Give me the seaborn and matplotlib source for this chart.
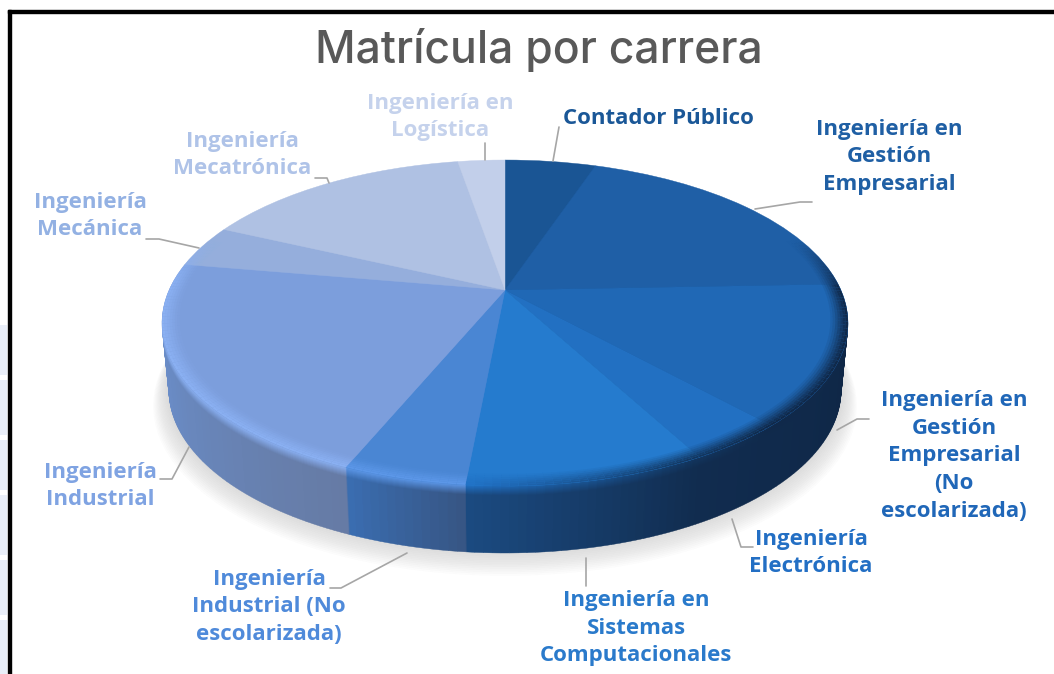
import numpy as np
import matplotlib
matplotlib.use('Agg')
import matplotlib.pyplot as plt
import matplotlib.transforms as mtransforms
from matplotlib.colors import to_rgb
from matplotlib.patches import Rectangle
import seaborn as sns

# ------------------------------------------------------------
#  DATA (share of enrolment)
# ------------------------------------------------------------
carreras = ['Contador Público',
            'Ingeniería en\nGestión\nEmpresarial',
            'Ingeniería en\nGestión\nEmpresarial\n(No\nescolarizada)',
            'Ingeniería\nElectrónica',
            'Ingeniería en\nSistemas\nComputacionales',
            'Ingeniería\nIndustrial (No\nescolarizada)',
            'Ingeniería\nIndustrial',
            'Ingeniería\nMecánica',
            'Ingeniería\nMecatrónica',
            'Ingeniería en\nLogística']
matricula = [5.2, 19.2, 13.8, 3.9, 9.4, 4.8, 21.4, 4.2, 15.4, 2.7]

# colours
top_colors = ['#1A5594', '#1F5FA6', '#2068B5', '#2270C2', '#257BCE',
              '#4A86D3', '#7C9EDC', '#95AEDC', '#AFC1E3', '#C2CFEA']
label_colors = ['#1A5797', '#1F5FA4', '#2067B8', '#236FC4', '#2A7ACB',
                '#4F8ADA', '#7FA3E2', '#93B1E3', '#AFC3E8', '#C5D2EC']
side_from = ['#10294A', '#10294A', '#0E2543', '#102A4C', '#112D50',
             '#375685', '#667BA5', '#6C96DA', '#6C96DA', '#10294A']
side_to = ['#10294A', '#0E2543', '#102A4C', '#112C4F', '#1B4A80',
           '#3A6DB0', '#6C96DA', '#6C96DA', '#6C96DA', '#10294A']
rim_from = ['#1A5594', '#12345E', '#10294A', '#10294A', '#12365F',
            '#5C97E8', '#8AB0F2', '#8AB0F2', '#AFC1E3', '#C2CFEA']
rim_to = ['#1A5594', '#12345E', '#10294A', '#12365F', '#2172C6',
          '#5C97E8', '#8AB0F2', '#8AB0F2', '#AFC1E3', '#C2CFEA']

# layout, in picture pixels
label_xy = [(658, 119), (889, 157), (954, 456), (811, 553), (636, 628),
            (269, 607), (100, 486), (90, 216), (242, 155), (440, 117)]
leaders = [[(559, 127), (553, 161)],
           [(812, 202), (800, 202), (755, 209)],
           [(869, 419), (857, 419), (837, 430)],
           [(753, 547), (741, 547), (732, 519)],
           [(586, 558), (586, 586)],
           [(330, 588), (341, 588), (407, 553)],
           [(160, 479), (172, 479), (189, 447)],
           [(146, 239), (159, 239), (199, 248)],
           [(315, 178), (327, 178), (329, 183)],
           [(485, 143), (485, 160)]]

CX, CY = 505, 290     # where the slices meet
PERSP = 0.2025        # perspective strength
SCALE_X, SCALE_Y = 335.9, 156.3
DEPTH = 67
BLUR = 10             # pixels of wall that melt into the rim colour


class Tilt(mtransforms.Transform):
    """Lays the flat pie down in perspective, result in picture pixels."""
    input_dims = 2
    output_dims = 2
    is_separable = False
    has_inverse = False

    def __init__(self, drop=0.0, shrink=1.0):
        super().__init__()
        self.drop = drop
        self.shrink = shrink

    def transform_non_affine(self, xy):
        xy = np.asarray(xy, dtype=float)
        w = 1 + PERSP * xy[:, 1]
        px = CX + self.shrink * SCALE_X * xy[:, 0] / w
        py = CY - SCALE_Y * xy[:, 1] / w + self.drop
        return np.column_stack([px, py])


sns.set_theme(style='white')
plt.rcParams['font.family'] = ['Open Sans', 'DejaVu Sans']

fig = plt.figure(figsize=(10.54, 6.74), dpi=100)
ax = fig.add_axes([0, 0, 1, 1])


def draw_pie(values, colors, radius=1.0, width=None, drop=0.0, shrink=1.0):
    props = dict(linewidth=0.3 if width is None else 0)
    if width is not None:
        props['width'] = width
    wedges, _ = ax.pie(values, colors=colors, radius=radius, startangle=90,
                       counterclock=False, wedgeprops=props)
    for w, c in zip(wedges, colors):
        w.set_transform(Tilt(drop, shrink) + ax.transData)
        if width is None:
            w.set_edgecolor(c)


# each slice is cut in thin parts so the side can carry a gradient
parts = [max(3, int(v * 3)) for v in matricula]
fine_values = []
fine_side = []
fine_rim = []
for i, (v, n) in enumerate(zip(matricula, parts)):
    fine_values += [v / n] * n
    fine_side += sns.blend_palette([side_from[i], side_to[i]], n)
    fine_rim += sns.blend_palette([rim_from[i], rim_to[i]], n)
fine_side = np.array([to_rgb(c) for c in fine_side])
fine_rim = np.array([to_rgb(c) for c in fine_rim])

# angle of every part, only the front of the pie gets the rim light
edges = np.cumsum([0] + fine_values) / sum(fine_values) * 2 * np.pi
mid = (edges[:-1] + edges[1:]) / 2
rim_weight = np.clip((0.35 - np.cos(mid)) / 0.3, 0, 1)

# soft shadow under the pie
for i in range(14):
    draw_pie([1], [(0.25, 0.25, 0.25, 0.011)], radius=1.0 + 0.003 * i,
             drop=DEPTH + 1.0 * i, shrink=0.985)

# side wall, stacked from the bottom up, melting into the rim at the top
for d in np.arange(DEPTH, 0, -1.0):
    t = max(0.0, 1 - d / BLUR)
    cols = fine_side * (1 - t) + fine_rim * t
    draw_pie(fine_values, [tuple(c) for c in cols], drop=d,
             shrink=1 - 0.02 * d / DEPTH)

# top face
draw_pie(matricula, top_colors)

# bevel: the rim colour fades in towards the edge
ring_r = [0.958, 0.965, 0.972, 0.979, 0.986, 0.993, 1.0]
ring_a = [0.1, 0.22, 0.38, 0.55, 0.72, 0.88, 1.0]
for r, al in zip(ring_r, ring_a):
    cols = [(*c, al * w) for c, w in zip(fine_rim, rim_weight)]
    draw_pie(fine_values, cols, radius=r, width=0.0075)

ax.set_aspect('auto')
ax.set_xlim(0, 1054)
ax.set_ylim(674, 0)
ax.axis('off')

# labels and leader lines
for name, xy, col, line in zip(carreras, label_xy, label_colors, leaders):
    ax.text(xy[0], xy[1], name, color=col, fontsize=16, fontweight='bold',
            ha='center', va='center', linespacing=1.42, zorder=5)
    xs, ys = zip(*line)
    ax.plot(xs, ys, color='#A6A6A6', lw=1.2, zorder=4)

ax.text(539, 50, 'Matrícula por carrera', color='#595959', fontsize=32,
        family=['Inter', 'DejaVu Sans'], fontweight='medium',
        ha='center', va='center', zorder=5)

# black frame of the slide, and pale stripes left of it
ax.add_patch(Rectangle((8, 10), 1046, 2.6, color='black', zorder=6))
ax.add_patch(Rectangle((8, 10), 2.6, 664, color='black', zorder=6))
for y0, h in [(325, 50), (380, 55), (440, 50), (495, 60), (560, 55), (620, 54)]:
    ax.add_patch(Rectangle((0, y0), 7, h, color='#E9EEF8', lw=0, zorder=1))

plt.savefig('out.png', dpi=100)
